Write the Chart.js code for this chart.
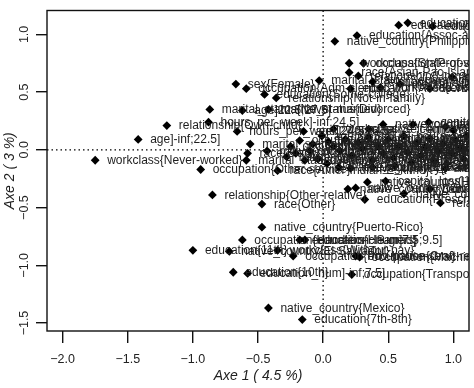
<!DOCTYPE html>
<html><head><meta charset="utf-8">
<script src="https://cdn.jsdelivr.net/npm/chart.js@4/dist/chart.umd.min.js"></script>
<style>html,body{margin:0;padding:0;background:#fff}#wrap{width:474px;height:388px}</style>
</head><body><div id="wrap"><canvas id="c" width="474" height="388"></canvas></div>
<script>
// Category labels and coordinates (Axe 1, Axe 2)
const labels = [
 "education{Prof-school}","education{Doctorate}","education_num]13.5;inf]","education{Assoc-acdm}","native_country{Philippines}",
 "workclass{State-gov}","occupation{Prof-specialty}","race{Asian-Pac-Islander}","relationship{Unmarried}","marital_status{Separated}",
 "sex{Female}","occupation{Adm-clerical}","education{Some-college}","relationship{Not-in-family}",
 "relationship{Wife}","marital_status{Married-AF-spouse}","workclass{Federal-gov}","occupation{Tech-support}","workclass{Local-gov}","education{Assoc-voc}",
 "marital_status{Never-married}","age]22.5;27.5]","marital_status{Divorced}","hours_per_week]-inf;24.5]","relationship{Own-child}",
 "age]-inf;22.5]","workclass{Never-worked}","hours_per_week]24.5;34.5]",
 "age]27.5;36.5]","workclass{Self-emp-not-inc}","native_country{Germany}","native_country{India}","workclass{Self-emp-inc}",
 "capital_gain]7073.5;inf]","occupation{Exec-managerial}","age]47.5;61.5]",
 "marital_status{Married-spouse-absent}","race{Black}","marital_status{Widowed}","native_country{Jamaica}","occupation{Other-service}",
 "race{Amer-Indian-Eskimo}","relationship{Other-relative}","race{Other}","native_country{Puerto-Rico}",
 "occupation{Handlers-cleaners}","education{HS-grad}","education_num]7.5;9.5]","education{11th}","native_country{El-Salvador}",
 "workclass{Without-pay}","occupation{Priv-house-serv}","occupation{Craft-repair}","occupation{Machine-op-inspct}",
 "education{10th}","education_num]-inf;7.5]","occupation{Transport-moving}","native_country{Mexico}","education{7th-8th}",
 "native_country{Dominican-Republic}","native_country{Guatemala}","native_country{Haiti}","capital_loss]1.5;58.5]","education{Preschool}",
 "native_country{Vietnam}","native_country{Laos}","relationship{Other}",
 "occupation{Sales}","sex{Male}","age]36.5;47.5]","race{White}","native_country{United-States}","hours_per_week]34.5;41.5]",
 "workclass{Private}","marital_status{Married-civ-spouse}","relationship{Husband}","hours_per_week]41.5;49.5]","native_country{Canada}",
 "native_country{England}","education{Bachelors}","education_num]12.5;13.5]","native_country{Italy}","native_country{Poland}",
 "hours_per_week]49.5;inf]","native_country{Cuba}","native_country{Greece}","native_country{Japan}","native_country{China}",
 "native_country{Iran}","income{>50K}","native_country{France}","native_country{Hungary}","native_country{Ireland}",
 "native_country{Portugal}","native_country{Scotland}","native_country{Yugoslavia}","native_country{Taiwan}","native_country{Hong}",
 "native_country{Thailand}","workclass{?}","occupation{?}","native_country{South}","capital_gain]-inf;57]",
 "native_country{Ecuador}","native_country{Peru}","occupation{Protective-serv}","native_country{Nicaragua}","occupation{Armed-Forces}",
 "occupation{Farming-fishing}","income{<=50K}","native_country{Trinadad&Tobago}","native_country{Honduras}"
];
const axe1 = [
 0.58,0.65,0.84,0.26,0.09,
 0.20,0.31,0.20,0.27,-0.03,
 -0.67,-0.59,-0.45,-0.36,
 0.38,0.59,0.82,0.99,0.44,0.21,
 -0.87,-0.62,-0.42,-0.88,-1.20,
 -1.42,-1.75,-0.66,
 -0.15,0.08,0.35,0.46,0.69,
 0.81,0.94,1.00,
 -0.56,-0.58,-0.59,-0.43,-0.94,
 -0.35,-0.85,-0.47,-0.47,
 -0.62,-0.18,-0.14,-1.00,-0.72,
 -0.35,-0.23,0.25,0.28,
 -0.69,-0.58,0.22,-0.42,-0.16,
 0.19,0.25,0.34,0.48,0.32,
 0.62,0.82,0.90,
 -0.18,-0.08,-0.01,0.08,0.13,0.17,
 0.22,0.27,0.30,0.35,0.38,
 0.42,0.46,0.50,0.54,0.58,
 0.62,0.65,0.68,0.72,0.75,
 0.78,0.82,0.85,0.88,0.92,
 0.95,0.99,1.02,1.05,1.08,
 1.10,-0.21,-0.14,-0.04,0.03,
 0.12,0.21,-0.25,-0.28,-0.10,
 0.38,0.04,0.55,0.94
];
const axe2 = [
 1.08,1.10,1.07,0.99,0.94,
 0.75,0.75,0.67,0.64,0.60,
 0.57,0.53,0.48,0.45,
 0.59,0.57,0.53,0.63,0.54,0.53,
 0.35,0.34,0.35,0.24,0.21,
 0.09,-0.09,0.16,
 0.16,0.18,0.18,0.22,0.22,
 0.24,0.20,0.17,
 0.05,-0.03,-0.09,-0.01,-0.17,
 -0.18,-0.39,-0.47,-0.67,
 -0.78,-0.78,-0.78,-0.87,-0.88,
 -0.87,-0.92,-0.92,-0.93,
 -1.06,-1.07,-1.08,-1.37,-1.47,
 -0.34,-0.33,-0.28,-0.27,-0.43,
 -0.38,-0.34,-0.46,
 0.08,0.05,0.12,0.03,-0.01,0.09,
 -0.05,0.06,0.01,0.11,-0.09,
 0.03,-0.03,0.09,-0.07,0.03,
 0.12,-0.02,-0.11,0.06,-0.05,
 0.02,0.10,-0.09,-0.01,0.05,
 -0.12,-0.03,0.08,0.02,-0.08,
 0.12,-0.03,-0.09,-0.08,-0.12,
 -0.15,-0.16,0.03,-0.06,-0.01,
 -0.15,0.07,-0.14,-0.16
];
const xTicks = [-2.0,-1.5,-1.0,-0.5,0.0,0.5,1.0];
const xTickLabels = ["\u22122.0","\u22121.5","\u22121.0","\u22120.5","0.0","0.5","1.0"];
const yTicks = [-1.5,-1.0,-0.5,0.0,0.5,1.0];
const yTickLabels = ["\u22121.5","\u22121.0","\u22120.5","0.0","0.5","1.0"];
const xTitle = "Axe 1 ( 4.5 %)";
const yTitle = "Axe 2 ( 3 %)";

const FONT = '"Liberation Sans", Arial, sans-serif';
const points = axe1.map((v,i)=>({x:v, y:axe2[i]}));

const rPlot = {
  id:'rplot',
  beforeDatasetsDraw(chart){
    const {ctx, chartArea:a, scales:{x,y}} = chart;
    ctx.save();
    ctx.beginPath(); ctx.rect(a.left,a.top,a.right-a.left,a.bottom-a.top); ctx.clip();
    ctx.setLineDash([1.5,3]); ctx.strokeStyle='#000'; ctx.lineWidth=1.3;
    const x0=x.getPixelForValue(0), y0=y.getPixelForValue(0);
    ctx.beginPath();
    ctx.moveTo(x0,a.top); ctx.lineTo(x0,a.bottom);
    ctx.moveTo(a.left,y0); ctx.lineTo(a.right,y0);
    ctx.stroke();
    ctx.restore();
  },
  afterDatasetsDraw(chart){
    const {ctx, chartArea:a} = chart;
    const meta = chart.getDatasetMeta(0);
    ctx.save();
    ctx.beginPath(); ctx.rect(a.left,a.top,a.right-a.left,a.bottom-a.top); ctx.clip();
    ctx.font = '12px ' + FONT; ctx.fillStyle = '#1e1e1e';
    ctx.textBaseline = 'middle'; ctx.textAlign = 'left';
    meta.data.forEach((pt,i)=>{ ctx.fillText(labels[i], pt.x+12, pt.y+0.5); });
    ctx.restore();
  },
  afterDraw(chart){
    const {ctx, chartArea:a, scales:{y}} = chart;
    ctx.save();
    ctx.strokeStyle='#111'; ctx.lineWidth=1.4;
    ctx.strokeRect(a.left, a.top, a.right-a.left, a.bottom-a.top);
    ctx.font = '12.5px ' + FONT; ctx.fillStyle='#222';
    ctx.textAlign='center'; ctx.textBaseline='middle';
    yTicks.forEach((v,i)=>{
      ctx.save();
      ctx.translate(25, y.getPixelForValue(v));
      ctx.rotate(-Math.PI/2);
      ctx.fillText(yTickLabels[i],0,0);
      ctx.restore();
    });
    ctx.restore();
  }
};

new Chart(document.getElementById('c'), {
  type:'scatter',
  data:{datasets:[{data:points, pointStyle:'rectRot', pointRadius:4.4, pointHoverRadius:4.4,
    backgroundColor:'#000', borderColor:'#000', borderWidth:0}]},
  options:{
    responsive:false, animation:false, devicePixelRatio:1,
    layout:{padding:{top:9,right:5,left:0,bottom:0}},
    plugins:{legend:{display:false}, tooltip:{enabled:false}},
    scales:{
      x:{type:'linear', position:'bottom', min:-2.12, max:1.12,
        afterBuildTicks:s=>{ s.ticks = xTicks.map(v=>({value:v})); },
        afterFit:s=>{ s.height = 57; },
        grid:{display:true, drawOnChartArea:false, drawTicks:true, tickLength:12, color:'#111', lineWidth:1.4},
        border:{display:false},
        ticks:{autoSkip:false, maxRotation:0, minRotation:0, padding:9, color:'#222',
          font:{size:12.5, family:FONT}, callback:(v,i)=>xTickLabels[i]},
        title:{display:true, text:xTitle, color:'#222', font:{size:14, style:'italic', family:FONT}, padding:{top:0,bottom:3}}
      },
      y:{type:'linear', position:'left', min:-1.569, max:1.207,
        afterBuildTicks:s=>{ s.ticks = yTicks.map(v=>({value:v})); },
        afterFit:s=>{ s.width = 47; },
        grid:{display:true, drawOnChartArea:false, drawTicks:true, tickLength:11, color:'#111', lineWidth:1.4},
        border:{display:false},
        ticks:{autoSkip:false, color:'rgba(0,0,0,0)', font:{size:12.5, family:FONT}, callback:(v,i)=>yTickLabels[i]},
        title:{display:true, text:yTitle, color:'#222', font:{size:14, style:'italic', family:FONT}, padding:{top:2,bottom:0}}
      }
    }
  },
  plugins:[rPlot]
});
</script>
</body></html>
